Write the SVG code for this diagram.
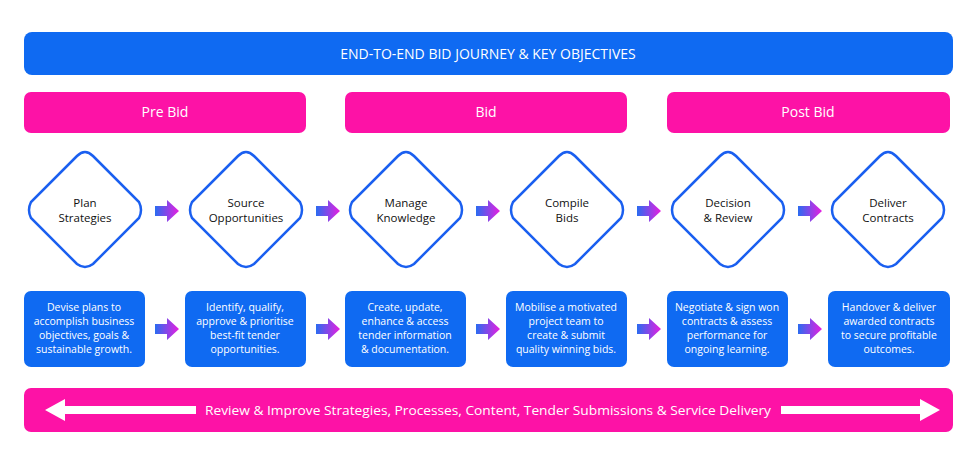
<svg xmlns="http://www.w3.org/2000/svg" width="973" height="459" viewBox="0 0 973 459">
<defs>
<linearGradient id="g" x1="0" x2="1" y1="0" y2="0"><stop offset="0" stop-color="#2a6cf0"/><stop offset="1" stop-color="#e81ee0"/></linearGradient>
<path id="ar" d="M0,-5 H12 V-11 L24,0 L12,11 V5 H0 Z" fill="url(#g)"/>
<path id="dm" d="M0,-58 Q4,-58 8,-54 L54,-8 Q58,0 54,8 L8,54 Q0,60 -8,54 L-54,8 Q-58,0 -54,-8 L-8,-54 Q-4,-58 0,-58 Z" fill="#fff" stroke="#1a5ff0" stroke-width="2.5"/>
</defs>
<style>
text{font-family:"Open Sans","Liberation Sans",sans-serif;text-anchor:middle}
.t{fill:#fff;font-size:14px}
.d{fill:#111;font-size:11.5px}
.b{fill:#fff;font-size:10.5px}
.blue{fill:#0f6af2}
.pink{fill:#fd12a6}
</style>
<rect width="973" height="459" fill="#fff"/>
<g id="header"><rect class="blue" x="24" y="32" width="929" height="43" rx="8"/><text class="t" x="488" y="59">END-TO-END BID JOURNEY &amp; KEY OBJECTIVES</text></g>
<g id="prebid"><rect class="pink" x="24" y="92" width="282" height="41" rx="7"/><text class="t" x="165" y="117">Pre Bid</text></g>
<g id="bid"><rect class="pink" x="345" y="92" width="282" height="41" rx="7"/><text class="t" x="486" y="117">Bid</text></g>
<g id="postbid"><rect class="pink" x="667" y="92" width="283" height="41" rx="7"/><text class="t" x="808" y="117">Post Bid</text></g>
<g id="d1"><use href="#dm" x="85" y="210"/><text class="d" x="85" y="207">Plan</text><text class="d" x="85" y="222">Strategies</text></g>
<g id="d2"><use href="#dm" x="246" y="210"/><text class="d" x="246" y="207">Source</text><text class="d" x="246" y="222">Opportunities</text></g>
<g id="d3"><use href="#dm" x="406" y="210"/><text class="d" x="406" y="207">Manage</text><text class="d" x="406" y="222">Knowledge</text></g>
<g id="d4"><use href="#dm" x="567" y="210"/><text class="d" x="567" y="207">Compile</text><text class="d" x="567" y="222">Bids</text></g>
<g id="d5"><use href="#dm" x="728" y="210"/><text class="d" x="728" y="207">Decision</text><text class="d" x="728" y="222">&amp; Review</text></g>
<g id="d6"><use href="#dm" x="888" y="210"/><text class="d" x="888" y="207">Deliver</text><text class="d" x="888" y="222">Contracts</text></g>
<g id="b1"><rect class="blue" x="24" y="291" width="121" height="76" rx="7"/><text class="b" x="84" y="311">Devise plans to</text><text class="b" x="84" y="325">accomplish business</text><text class="b" x="84" y="339">objectives, goals &amp;</text><text class="b" x="84" y="353">sustainable growth.</text></g>
<g id="b2"><rect class="blue" x="185" y="291" width="121" height="76" rx="7"/><text class="b" x="245" y="311">Identify, qualify,</text><text class="b" x="245" y="325">approve &amp; prioritise</text><text class="b" x="245" y="339">best-fit tender</text><text class="b" x="245" y="353">opportunities.</text></g>
<g id="b3"><rect class="blue" x="345" y="291" width="121" height="76" rx="7"/><text class="b" x="405" y="311">Create, update,</text><text class="b" x="405" y="325">enhance &amp; access</text><text class="b" x="405" y="339">tender information</text><text class="b" x="405" y="353">&amp; documentation.</text></g>
<g id="b4"><rect class="blue" x="506" y="291" width="121" height="76" rx="7"/><text class="b" x="566" y="311">Mobilise a motivated</text><text class="b" x="566" y="325">project team to</text><text class="b" x="566" y="339">create &amp; submit</text><text class="b" x="566" y="353">quality winning bids.</text></g>
<g id="b5"><rect class="blue" x="667" y="291" width="121" height="76" rx="7"/><text class="b" x="727" y="311">Negotiate &amp; sign won</text><text class="b" x="727" y="325">contracts &amp; assess</text><text class="b" x="727" y="339">performance for</text><text class="b" x="727" y="353">ongoing learning.</text></g>
<g id="b6"><rect class="blue" x="828" y="291" width="122" height="76" rx="7"/><text class="b" x="889" y="311">Handover &amp; deliver</text><text class="b" x="889" y="325">awarded contracts</text><text class="b" x="889" y="339">to secure profitable</text><text class="b" x="889" y="353">outcomes.</text></g>
<g id="connectors">
<use href="#ar" x="155" y="211"/><use href="#ar" x="316" y="211"/><use href="#ar" x="476" y="211"/><use href="#ar" x="637" y="211"/><use href="#ar" x="798" y="211"/>
<use href="#ar" x="155" y="329"/><use href="#ar" x="316" y="329"/><use href="#ar" x="476" y="329"/><use href="#ar" x="637" y="329"/><use href="#ar" x="798" y="329"/>
</g>
<g id="footer"><rect class="pink" x="24" y="388" width="929" height="44" rx="7"/>
<path d="M45,410 L65,399 V406 H196 V414 H65 V421 Z" fill="#fff"/>
<path d="M940,410 L920,399 V406 H781 V414 H920 V421 Z" fill="#fff"/>
<text x="488" y="415" fill="#fff" font-size="13" textLength="566" lengthAdjust="spacingAndGlyphs">Review &amp; Improve Strategies, Processes, Content, Tender Submissions &amp; Service Delivery</text></g>
</svg>
